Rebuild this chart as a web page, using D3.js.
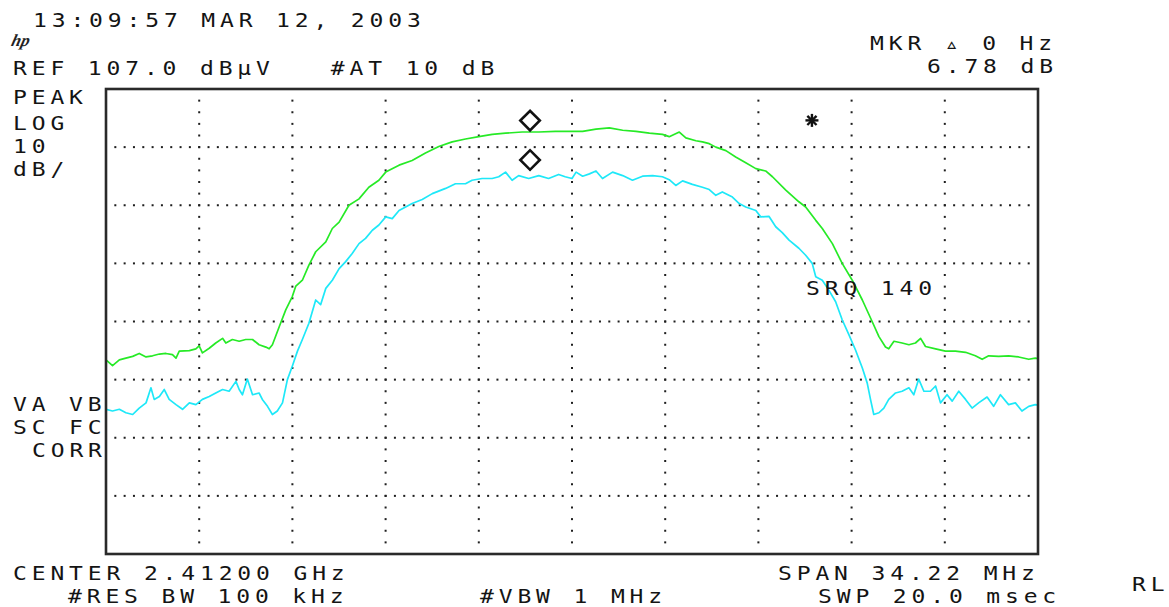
<!DOCTYPE html>
<html>
<head>
<meta charset="utf-8">
<script src="https://cdn.jsdelivr.net/npm/d3@7"></script>
<style>
  html, body { margin: 0; padding: 0; background: #fff; }
  svg { display: block; }
  .lbl { font-family: "DejaVu Sans Mono", monospace; font-size: 20px; fill: #141414; letter-spacing: 4.22px; white-space: pre; }
</style>
</head>
<body>
<svg id="chart" width="1169" height="607"></svg>
<script>
/* ── SETTINGS ─────────────────────────────────────── */
const REF_DBUV  = 107.0;
const DB_PER_DIV = 10;
const SPAN_MHZ  = 34.22;

/* green trace: offset from center (MHz), level (dBµV) */
const greenOffset = [-17.11,-16.87,-16.62,-16.38,-16.13,-15.89,-15.64,-15.40,-15.15,-14.91,-14.67,-14.54,-14.42,-14.05,-13.81,-13.69,-13.57,-13.32,-13.08,-12.83,-12.71,-12.47,-12.22,-11.98,-11.73,-11.49,-11.24,-11.12,-11.00,-10.75,-10.51,-10.27,-10.14,-9.90,-9.66,-9.41,-9.04,-8.80,-8.55,-8.19,-7.82,-7.46,-7.09,-6.84,-6.35,-5.87,-5.38,-4.89,-4.40,-3.91,-3.42,-2.93,-2.44,-1.83,-1.22,-0.61,0.00,
  0.39,0.88,1.37,1.86,2.35,2.84,3.32,3.57,3.94,4.18,4.55,4.79,5.04,5.28,5.65,6.01,6.38,6.75,7.11,7.36,7.85,8.33,8.58,8.95,9.19,9.56,9.92,10.29,10.66,11.02,11.27,11.51,11.63,11.82,12.12,12.37,12.61,12.80,12.98,13.35,13.71,14.08,14.45,14.81,15.06,15.30,15.67,16.03,16.40,16.77,17.01,17.11];
const greenLevel = [60.4,59.4,60.4,60.7,61.0,61.5,60.9,61.1,61.4,61.5,61.3,60.7,61.9,62.0,62.3,62.8,61.6,62.4,63.3,64.1,63.3,63.9,63.6,63.9,63.9,63.0,62.6,62.3,63.0,66.1,69.0,71.3,73.1,74.1,76.7,79.0,80.7,83.0,84.1,87.0,88.1,90.1,91.3,92.7,93.9,94.7,96.0,97.1,97.9,98.4,98.8,99.2,99.4,99.6,99.6,99.7,99.7,
  99.7,100.1,100.3,99.9,99.7,99.4,99.2,98.8,99.6,98.6,98.1,97.9,97.6,97.0,96.4,95.3,94.3,93.3,92.9,91.9,89.6,87.6,86.7,84.4,83.0,80.4,77.0,74.1,70.7,67.0,64.4,62.6,62.3,63.6,63.3,63.0,63.3,64.1,62.7,62.3,61.9,61.9,61.7,61.1,60.5,61.1,61.0,61.1,60.9,60.5,60.7,60.6];

/* cyan trace */
const cyanOffset = [-17.11,-16.87,-16.62,-16.38,-16.13,-15.89,-15.64,-15.46,-15.34,-15.15,-14.97,-14.79,-14.54,-14.30,-14.05,-13.81,-13.57,-13.32,-13.08,-12.83,-12.59,-12.34,-12.22,-12.10,-11.92,-11.73,-11.49,-11.37,-11.18,-11.00,-10.82,-10.63,-10.45,-10.27,-10.08,-9.90,-9.66,-9.41,-9.23,-9.04,-8.80,-8.55,-8.31,-8.07,-7.82,-7.58,-7.33,-7.09,-6.84,-6.60,-6.35,-6.11,-5.87,-5.50,-5.13,-4.64,-4.28,-3.91,-3.67,-3.30,-2.93,-2.69,-2.44,-2.20,-1.96,-1.59,-1.22,-0.86,-0.49,-0.25,0.00,
  0.15,0.39,0.64,0.88,1.12,1.49,1.86,2.22,2.59,2.96,3.32,3.57,3.81,4.06,4.42,4.79,5.04,5.28,5.52,5.89,6.14,6.38,6.75,6.93,7.23,7.48,7.72,7.97,8.33,8.58,8.82,8.95,9.19,9.43,9.68,9.92,10.17,10.41,10.66,10.84,10.96,11.08,11.27,11.45,11.63,11.88,12.12,12.37,12.55,12.73,12.92,13.16,13.35,13.53,13.77,13.96,14.20,14.45,14.69,14.93,15.24,15.48,15.73,16.03,16.28,16.52,16.77,17.01,17.11];
const cyanLevel = [51.9,51.6,51.9,51.3,51.0,52.1,53.0,55.6,53.6,54.1,55.3,53.6,52.7,51.9,53.0,52.7,53.6,54.1,54.7,55.3,55.0,56.7,55.3,54.4,57.1,54.4,54.7,53.6,52.4,51.0,51.6,53.0,57.0,59.3,61.9,63.9,66.7,70.7,69.9,72.7,74.1,76.1,77.3,78.7,80.4,81.3,82.7,83.6,85.0,84.7,86.1,86.7,87.3,88.0,89.0,89.9,90.7,90.7,91.3,91.6,91.6,91.9,92.7,91.3,92.1,91.6,92.1,91.6,92.3,91.9,91.6,
  92.7,92.0,92.4,92.9,91.6,92.7,92.1,91.3,92.0,92.1,91.9,91.4,90.4,91.2,90.6,90.1,89.7,88.7,89.3,88.4,87.3,86.7,86.1,85.0,85.1,83.3,82.3,81.0,79.6,78.4,77.0,74.7,74.1,72.4,70.4,67.3,64.7,62.1,59.0,56.4,53.6,51.0,51.3,52.1,53.6,54.7,55.0,55.6,54.4,57.1,55.0,55.0,55.9,53.0,54.4,53.3,55.0,53.6,52.1,53.0,54.0,52.4,54.4,52.7,53.0,51.6,52.4,52.7,52.6];

/* markers (same frequency, delta 6.78 dB) */
const markerOffset = -1.54;
const markerLevel  = [99.9, 93.12];
const starPos      = [8.81, 101.6];   // active-function asterisk

/* screen annotations */
const headerLines = [
  { text: '13:09:57 MAR 12, 2003', x: 33,  y: 27 },
  { text: 'REF 107.0 dB\u00b5V   #AT 10 dB', x: 13, y: 75 },
  { text: 'MKR \u25b5 0 Hz', x: 870, y: 50 },
  { text: '6.78 dB', x: 927, y: 73 }
];
const sideLines = [
  { text: 'PEAK', x: 13, y: 104 },
  { text: 'LOG',  x: 13, y: 130 },
  { text: '10',   x: 13, y: 153 },
  { text: 'dB/',  x: 13, y: 176 },
  { text: 'VA VB', x: 13, y: 411 },
  { text: 'SC FC', x: 13, y: 434 },
  { text: 'CORR', x: 32, y: 457 }
];
const footerLines = [
  { text: 'CENTER 2.41200 GHz', x: 13,  y: 580 },
  { text: '#RES BW 100 kHz',    x: 68,  y: 603 },
  { text: '#VBW 1 MHz',         x: 480, y: 603 },
  { text: 'SPAN 34.22 MHz',     x: 778, y: 580 },
  { text: 'SWP 20.0 msec',      x: 818, y: 603 },
  { text: 'RL',                 x: 1132, y: 591 }
];
const srqText = { text: 'SRQ 140', x: 806, y: 295 };

/* ── LAYOUT ───────────────────────────────────────── */
const frame = { left: 106, top: 89, right: 1038, bottom: 554 };
const svg = d3.select('#chart');

const x = d3.scaleLinear().domain([-SPAN_MHZ / 2, SPAN_MHZ / 2]).range([frame.left, frame.right]);
const y = d3.scaleLinear().domain([REF_DBUV - 8 * DB_PER_DIV, REF_DBUV]).range([frame.bottom, frame.top]);

/* ── GRATICULE (dotted) ───────────────────────────── */
const grid = svg.append('g').attr('fill', '#1e1e1e');
const xMajor = d3.range(1, 10).map(i => -SPAN_MHZ / 2 + i * SPAN_MHZ / 10);
const yMajor = d3.range(1, 8).map(i => REF_DBUV - i * DB_PER_DIV);
const xMinor = d3.range(1, 100).map(i => -SPAN_MHZ / 2 + i * SPAN_MHZ / 100);
const yMinor = d3.range(1, 40).map(i => REF_DBUV - i * DB_PER_DIV / 5);

yMajor.forEach(lv => {
  grid.selectAll(null).data(xMinor).enter().append('rect')
    .attr('x', d => x(d) - 1).attr('y', y(lv) - 1).attr('width', 2).attr('height', 2);
});
xMajor.forEach(f => {
  grid.selectAll(null).data(yMinor).enter().append('rect')
    .attr('x', x(f) - 1).attr('y', d => y(d) - 1).attr('width', 2).attr('height', 2);
});

/* ── TRACES ───────────────────────────────────────── */
svg.append('clipPath').attr('id', 'plot-clip').append('rect')
  .attr('x', frame.left).attr('y', frame.top)
  .attr('width', frame.right - frame.left).attr('height', frame.bottom - frame.top);

const line = d3.line().x(d => x(d[0])).y(d => y(d[1]));
const traces = [
  { pts: d3.zip(greenOffset, greenLevel), color: '#26ea26' },
  { pts: d3.zip(cyanOffset,  cyanLevel),  color: '#1ee8f8' }
];
svg.append('g').attr('clip-path', 'url(#plot-clip)')
  .selectAll('path').data(traces).enter().append('path')
  .attr('d', d => line(d.pts))
  .attr('fill', 'none').attr('stroke', d => d.color)
  .attr('stroke-width', 1.7).attr('stroke-linejoin', 'round');

/* ── FRAME ────────────────────────────────────────── */
svg.append('rect')
  .attr('x', frame.left).attr('y', frame.top)
  .attr('width', frame.right - frame.left).attr('height', frame.bottom - frame.top)
  .attr('fill', 'none').attr('stroke', '#2a2a2a').attr('stroke-width', 2.6);

/* ── MARKERS ──────────────────────────────────────── */
const diamond = d3.symbol().type(d3.symbolSquare).size(190);
svg.append('g').selectAll('path').data(markerLevel).enter().append('path')
  .attr('d', diamond)
  .attr('transform', d => 'translate(' + x(markerOffset) + ',' + (y(d) - 9.7) + ') rotate(45)')
  .attr('fill', 'none').attr('stroke', '#111').attr('stroke-width', 2.6);

const [sx, sy] = [x(starPos[0]), y(starPos[1])];
const star = svg.append('g').attr('transform', 'translate(' + sx + ',' + sy + ')')
  .attr('stroke', '#111').attr('stroke-width', 2.4).attr('stroke-linecap', 'butt');
[0, 45, 90, 135].forEach(a => {
  const r = 6.5, t = a * Math.PI / 180;
  star.append('line')
    .attr('x1', -r * Math.cos(t)).attr('y1', -r * Math.sin(t))
    .attr('x2',  r * Math.cos(t)).attr('y2',  r * Math.sin(t));
});

/* ── TEXT ─────────────────────────────────────────── */
// plotter font: fixed 18.7 px pitch, glyphs widened a little
function addLines(rows) {
  svg.append('g').selectAll('text').data(rows).enter().append('text')
    .attr('class', 'lbl')
    .attr('transform', d => 'translate(' + d.x + ',' + d.y + ') scale(1.15,1)')
    .text(d => d.text);
}
addLines(headerLines);
addLines(sideLines);
addLines(footerLines);
addLines([srqText]);

/* hp logo */
svg.append('text').attr('x', 22).attr('y', 46)
  .attr('font-family', 'Liberation Serif, serif').attr('font-style', 'italic')
  .attr('font-weight', 'bold').attr('font-size', 17).attr('fill', '#222')
  .attr('transform', 'skewX(-14)')
  .text('hp');
</script>
</body>
</html>
